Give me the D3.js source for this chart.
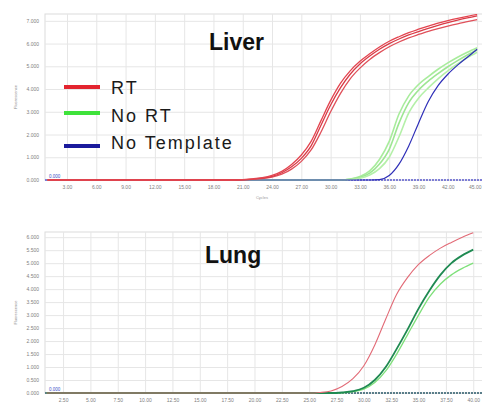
<!DOCTYPE html>
<html><head><meta charset="utf-8">
<script src="https://cdn.jsdelivr.net/npm/d3@7"></script>
<style>
body{margin:0;background:#fff}
svg{display:block}
text{font-family:"Liberation Sans",Arial,sans-serif}
</style>
</head><body>
<script>
// ---------------- DATA ----------------
const liverCycles = [1,2,3,4,5,6,7,8,9,10,11,12,13,14,15,16,17,18,19,20,21,22,23,24,25,26,27,28,29,30,31,32,33,34,35,36,37,38,39,40,41,42,43,44,45];
const liverRT_A = [0,0,0,0,0,0,0,0,0,0,0,0,0,0,0,0,0,0,0,0,0.02,0.05,0.1,0.2,0.38,0.68,1.1,1.7,2.6,3.5,4.25,4.8,5.22,5.55,5.85,6.1,6.3,6.48,6.63,6.77,6.9,7.01,7.11,7.2,7.28];
const liverRT_B = [0,0,0,0,0,0,0,0,0,0,0,0,0,0,0,0,0,0,0,0,0.01,0.04,0.08,0.16,0.32,0.58,0.95,1.5,2.4,3.3,4.05,4.65,5.1,5.45,5.75,6.0,6.2,6.38,6.53,6.67,6.8,6.92,7.03,7.13,7.22];
const liverRT_C = [0,0,0,0,0,0,0,0,0,0,0,0,0,0,0,0,0,0,0,0,0.01,0.03,0.06,0.13,0.26,0.48,0.82,1.32,2.1,3.0,3.8,4.45,4.92,5.3,5.6,5.86,6.07,6.25,6.4,6.54,6.66,6.77,6.87,6.96,7.05];
const liverNoRT_A = [0,0,0,0,0,0,0,0,0,0,0,0,0,0,0,0,0,0,0,0,0,0,0,0,0,0,0,0,0,0,0,0.04,0.15,0.4,0.9,1.7,2.9,3.7,4.2,4.55,4.87,5.15,5.4,5.62,5.82];
const liverNoRT_B = [0,0,0,0,0,0,0,0,0,0,0,0,0,0,0,0,0,0,0,0,0,0,0,0,0,0,0,0,0,0,0,0.03,0.12,0.3,0.7,1.35,2.5,3.4,3.95,4.35,4.68,4.98,5.25,5.5,5.72];
const liverNoRT_C = [0,0,0,0,0,0,0,0,0,0,0,0,0,0,0,0,0,0,0,0,0,0,0,0,0,0,0,0,0,0,0,0.02,0.08,0.22,0.5,1.0,1.9,2.95,3.6,4.05,4.45,4.8,5.1,5.38,5.62];
const liverNoTemplate = [0,0,0,0,0,0,0,0,0,0,0,0,0,0,0,0,0,0,0,0,0,0,0,0,0,0,0,0,0,0,0,0,0,0,0.02,0.2,0.7,1.5,2.5,3.45,4.15,4.65,5.05,5.4,5.75];
const liverXTicks = [3,6,9,12,15,18,21,24,27,30,33,36,39,42,45];
const liverYTicks = [0,1,2,3,4,5,6,7];

const lungCycles = [1,2,3,4,5,6,7,8,9,10,11,12,13,14,15,16,17,18,19,20,21,22,23,24,25,26,27,28,29,30,31,32,33,34,35,36,37,38,39,40];
const lungRT = [0,0,0,0,0,0,0,0,0,0,0,0,0,0,0,0,0,0,0,0,0,0,0,0,0,0.02,0.08,0.25,0.55,1.05,1.85,2.85,3.8,4.45,4.95,5.3,5.58,5.8,6.0,6.17];
const lungNoRT_dark = [0,0,0,0,0,0,0,0,0,0,0,0,0,0,0,0,0,0,0,0,0,0,0,0,0,0,0,0.02,0.07,0.2,0.5,1.0,1.7,2.45,3.25,3.95,4.55,5.0,5.3,5.52];
const lungNoRT_light = [0,0,0,0,0,0,0,0,0,0,0,0,0,0,0,0,0,0,0,0,0,0,0,0,0,0,0,0.01,0.05,0.15,0.4,0.85,1.5,2.25,3.0,3.7,4.2,4.55,4.8,5.0];
const lungXTicks = [2.5,5,7.5,10,12.5,15,17.5,20,22.5,25,27.5,30,32.5,35,37.5,40];
const lungYTicks = [0,0.5,1,1.5,2,2.5,3,3.5,4,4.5,5,5.5,6];

const legendLabels = ["RT","No RT","No Template"];
const legendColors = ["#e3242f","#3ee23a","#1a1a9c"];

// ---------------- DRAW ----------------
const W = 482, H = 408;
const svg = d3.select("body").append("svg").attr("width", W).attr("height", H);

function panel(cfg){
  const g = svg.append("g");
  const x = d3.scaleLinear().domain(cfg.xDomain).range([45, 482]);
  const y = d3.scaleLinear().domain(cfg.yDomain).range(cfg.yRange);
  const [yb, yt] = cfg.yRange;
  const clipId = "clip" + cfg.id;
  svg.append("clipPath").attr("id", clipId).append("rect")
     .attr("x", 45).attr("y", yt).attr("width", 437).attr("height", yb - yt + 1);

  g.append("rect").attr("x",45).attr("y",yt).attr("width",440).attr("height",yb-yt)
   .attr("fill","#fff").attr("stroke","#dcdcdc").attr("stroke-width",1);

  g.append("g").attr("transform",`translate(0,${yb})`)
   .call(d3.axisBottom(x).tickValues(cfg.xTicks).tickSize(-(yb-yt)).tickFormat(""))
   .call(s=>{s.select(".domain").remove(); s.selectAll("line").attr("stroke","#e6e6e6");});
  g.append("g").attr("transform","translate(45,0)")
   .call(d3.axisLeft(y).tickValues(cfg.yTicks).tickSize(-440).tickFormat(""))
   .call(s=>{s.select(".domain").remove(); s.selectAll("line").attr("stroke","#e6e6e6");});

  g.append("g").attr("transform",`translate(0,${yb})`)
   .call(d3.axisBottom(x).tickValues(cfg.xTicks).tickSize(0).tickPadding(5).tickFormat(d3.format(".2f")))
   .call(s=>{
     s.select(".domain").remove();
     s.selectAll("text").attr("font-size",5).attr("fill","#808080")
      .attr("text-anchor",d=> x(d) > 476 ? "end" : "middle")
      .attr("dx",d=> x(d) > 476 ? (481 - x(d)) : 0);
   });
  g.append("g").attr("transform","translate(45,0)")
   .call(d3.axisLeft(y).tickValues(cfg.yTicks).tickSize(0).tickPadding(6).tickFormat(d3.format(".3f")))
   .call(s=>{s.select(".domain").remove(); s.selectAll("text").attr("font-size",5).attr("fill","#808080");});

  g.append("text").attr("transform",`translate(17,${(yb+yt)/2}) rotate(-90)`)
   .attr("text-anchor","middle").attr("font-size",4).attr("fill","#888").text("Fluorescence");

  const line = d3.line().x(d=>x(d[0])).y(d=>y(d[1])).curve(d3.curveMonotoneX);
  const cg = g.append("g").attr("clip-path",`url(#${clipId})`);
  cg.append("line").attr("x1",45).attr("x2",482).attr("y1",y(0)).attr("y2",y(0))
    .attr("stroke",cfg.baseColor).attr("stroke-width",1.4).attr("stroke-dasharray","2,1");
  cfg.series.forEach(s=>{
    cg.append("path").datum(cfg.cycles.map((c,i)=>[c,s.values[i]]))
      .attr("fill","none").attr("stroke",s.color).attr("stroke-width",s.width).attr("opacity",s.opacity||1)
      .attr("d",line);
  });
  g.append("text").attr("x",49).attr("y",y(0)-2).attr("font-size",4.5).attr("fill","#4050c8").text("0.000");

  g.append("text").attr("x",cfg.titleX).attr("y",cfg.titleY).attr("font-size",23).attr("font-weight","bold")
   .attr("fill","#111").text(cfg.title);
  return {x,y,g};
}

const liverPanel = panel({
  id:"a", xDomain:[0.75,45.5], yDomain:[0,7.3], yRange:[180,14],
  xTicks:liverXTicks, yTicks:liverYTicks, cycles:liverCycles, baseColor:"#5a5ad0",
  title:"Liver", titleX:209, titleY:50,
  series:[
    {values:liverNoRT_A, color:"#a8ec9c", width:1.6},
    {values:liverNoRT_B, color:"#9de692", width:1.6},
    {values:liverNoRT_C, color:"#b4f0a8", width:1.6},
    {values:liverNoTemplate, color:"#2f2fb8", width:1.2},
    {values:liverRT_C, color:"#e0505a", width:1.3},
    {values:liverRT_B, color:"#d93a46", width:1.3},
    {values:liverRT_A, color:"#e3444f", width:1.3}
  ]
});
liverPanel.g.append("text").attr("x",262).attr("y",199).attr("text-anchor","middle")
  .attr("font-size",4).attr("fill","#999").text("Cycles");

panel({
  id:"b", xDomain:[0.85,40.8], yDomain:[0,6.2], yRange:[393,232],
  xTicks:lungXTicks, yTicks:lungYTicks, cycles:lungCycles, baseColor:"#2a5a6a",
  title:"Lung", titleX:205, titleY:263,
  series:[
    {values:lungNoRT_light, color:"#7ee07a", width:1.3},
    {values:lungNoRT_dark, color:"#1f8a52", width:1.8},
    {values:lungRT, color:"#e26a76", width:1.1}
  ]
});

const lg = svg.append("g");
const legendY = [87,113,146];
const textY = [94,122,149];
legendLabels.forEach((t,i)=>{
  lg.append("line").attr("x1",64).attr("x2",100).attr("y1",legendY[i]).attr("y2",legendY[i])
    .attr("stroke",legendColors[i]).attr("stroke-width",4);
  lg.append("text").attr("x",111).attr("y",textY[i]).attr("font-size",18).attr("letter-spacing",2)
    .attr("fill","#1a1a1a").text(t);
});
</script>
</body></html>
